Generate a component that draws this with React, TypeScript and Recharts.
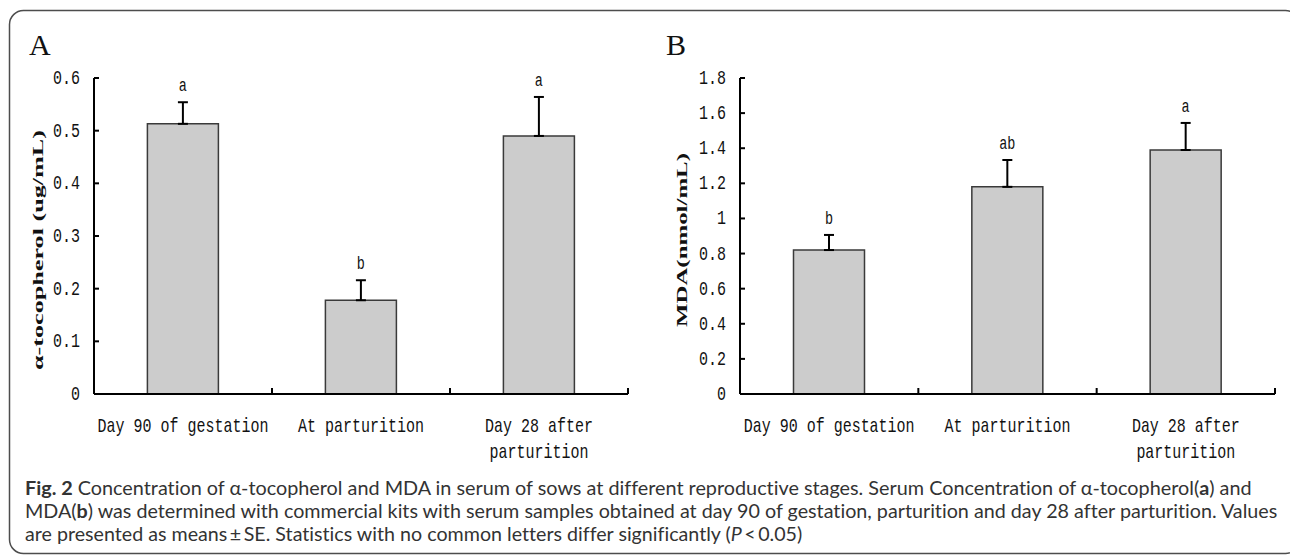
import React, { useLayoutEffect, useRef, useState } from "react";
import { BarChart, Bar, XAxis, YAxis, ErrorBar, LabelList, Label } from "recharts";

const stages = ["Day 90 of gestation", "At parturition", "Day 28 after parturition"];

const tocoMean = [0.513, 0.178, 0.49];
const tocoSE = [0.041, 0.038, 0.074];
const tocoLetters = ["a", "b", "a"];
const tocoTicks = [0, 0.1, 0.2, 0.3, 0.4, 0.5, 0.6];

const mdaMean = [0.82, 1.18, 1.39];
const mdaSE = [0.086, 0.153, 0.154];
const mdaLetters = ["b", "ab", "a"];
const mdaTicks = [0, 0.2, 0.4, 0.6, 0.8, 1, 1.2, 1.4, 1.6, 1.8];

const MONO = '"Liberation Mono", "DejaVu Sans Mono", monospace';
const SERIF = '"Liberation Serif", "DejaVu Serif", serif';
const SANS = 'Lato, "Open Sans", sans-serif';

function wrapWords(s: string, max = 19): string[] {
  const out: string[] = [];
  let cur = "";
  for (const w of s.split(" ")) {
    const next = cur ? cur + " " + w : w;
    if (next.length > max && cur) {
      out.push(cur);
      cur = w;
    } else {
      cur = next;
    }
  }
  if (cur) out.push(cur);
  return out;
}

// narrow mono text, the original uses a condensed CJK-style latin face
function Narrow({ x, y, anchor, size, children }: any) {
  return (
    <g transform={`translate(${x},${y}) scale(0.75,1)`}>
      <text x={0} y={0} textAnchor={anchor} fontFamily={MONO} fontSize={size} fill="#111">
        {children}
      </text>
    </g>
  );
}

function YTick(props: any) {
  const { x, y, payload } = props;
  return (
    <g>
      <line x1={x + 14} x2={x + 19} y1={y} y2={y} stroke="#000" strokeWidth={2} />
      <Narrow x={x} y={y + 6} anchor="end" size={20}>
        {String(payload.value)}
      </Narrow>
    </g>
  );
}

function XTick(props: any) {
  const { x, y, payload } = props;
  const half = payload.offset ?? 89;
  const lines = wrapWords(String(payload.value));
  return (
    <g>
      <line x1={x + half} x2={x + half} y1={y} y2={y - 6} stroke="#000" strokeWidth={2} />
      {lines.map((ln, i) => (
        <Narrow key={i} x={x} y={y + 38 + i * 26} anchor="middle" size={20}>
          {ln}
        </Narrow>
      ))}
    </g>
  );
}

function Panel({ left, means, ses, letters, ticks, max, yLabel, labelX, labelY, labelLen, plotLeft, rightMargin }: any) {
  const data = stages.map((stage, i) => ({ stage, mean: means[i], err: [0, ses[i]] }));

  const letter = (p: any) => {
    const { x, y, width, height, index } = p;
    const top = Number(y) - (ses[index] / means[index]) * Number(height);
    return (
      <Narrow x={Number(x) + Number(width) / 2} y={top - 11} anchor="middle" size={18}>
        {letters[index]}
      </Narrow>
    );
  };

  return (
    <div style={{ position: "absolute", left, top: 0 }}>
      <BarChart
        width={645}
        height={470}
        data={data}
        margin={{ top: 78, right: rightMargin, bottom: 0, left: 0 }}
        barCategoryGap="30%"
      >
        <XAxis
          dataKey="stage"
          height={76}
          interval={0}
          tickSize={0}
          tickMargin={0}
          tickLine={false}
          axisLine={{ stroke: "#000", strokeWidth: 2 }}
          tick={<XTick />}
        />
        <YAxis
          width={plotLeft}
          domain={[0, max]}
          ticks={ticks}
          interval={0}
          tickSize={0}
          tickMargin={14}
          tickLine={false}
          axisLine={{ stroke: "#000", strokeWidth: 2 }}
          tick={<YTick />}
        >
          <Label
            content={() => (
              <text
                transform={`translate(${labelX + 5},${labelY}) rotate(-90)`}
                textAnchor="middle"
                fontFamily={SERIF}
                fontWeight="bold"
                fontSize={15}
                fill="#111"
                textLength={labelLen}
                lengthAdjust="spacingAndGlyphs"
              >
                {yLabel}
              </text>
            )}
          />
        </YAxis>
        <Bar dataKey="mean" fill="#cccccc" stroke="#3a3a3a" strokeWidth={1.5} isAnimationActive={false}>
          <ErrorBar dataKey="err" direction="y" width={5} stroke="#000" strokeWidth={2} />
          <LabelList dataKey="mean" content={letter} />
        </Bar>
      </BarChart>
    </div>
  );
}

const blk = { display: "inline-block", lineHeight: "23px" };

// caption line squeezed to the width it has in the original
function FitLine({ top, width, children }: any) {
  const ref = useRef<HTMLSpanElement>(null);
  const [k, setK] = useState(1);
  useLayoutEffect(() => {
    const w = ref.current ? ref.current.offsetWidth : 0;
    if (w) setK(width / w);
  }, [width]);
  return (
    <div
      style={{
        position: "absolute",
        left: 25,
        top,
        height: 23,
        whiteSpace: "nowrap",
        fontFamily: SANS,
        fontSize: 19,
        lineHeight: "23px",
        color: "#333",
        fontVariantLigatures: "none",
      }}
    >
      <span
        ref={ref}
        style={{ ...blk, height: 23, transform: `scaleX(${k})`, transformOrigin: "left center" }}
      >
        {children}
      </span>
    </div>
  );
}

export default function App() {
  return (
    <div style={{ position: "relative", width: 1290, height: 557, background: "#fff", overflow: "hidden" }}>
      <style>{`body{margin:0}`}</style>
      <svg width={1290} height={557} style={{ position: "absolute", left: 0, top: 0 }}>
        <rect x={9.5} y={10.5} width={1290} height={543} rx={14} fill="none" stroke="#4d4d4d" strokeWidth={1.5} />
        <text x={29} y={55} fontFamily={SERIF} fontSize={30} fill="#111">A</text>
        <text x={666} y={55} fontFamily={SERIF} fontSize={30} fill="#111">B</text>
      </svg>
      <FitLine top={476} width={1227}>
        <b style={blk}>Fig. 2</b> Concentration of α-tocopherol and MDA in serum of sows at different reproductive
        stages. Serum Concentration of α-tocopherol(<b style={blk}>a</b>) and
      </FitLine>
      <FitLine top={499} width={1252}>
        MDA(<b style={blk}>b</b>) was determined with commercial kits with serum samples obtained at day 90 of
        gestation, parturition and day 28 after parturition. Values
      </FitLine>
      <FitLine top={522} width={777}>
        are presented as means{"\u2009±\u2009"}SE. Statistics with no common letters differ significantly (
        <i style={blk}>P</i>
        {"\u2009<\u2009"}0.05)
      </FitLine>
      <Panel
        left={0}
        means={tocoMean}
        ses={tocoSE}
        letters={tocoLetters}
        ticks={tocoTicks}
        max={0.6}
        yLabel="α-tocopherol (ug/mL)"
        labelX={38}
        labelY={250}
        labelLen={240}
        plotLeft={94}
        rightMargin={17}
      />
      <Panel
        left={645}
        means={mdaMean}
        ses={mdaSE}
        letters={mdaLetters}
        ticks={mdaTicks}
        max={1.8}
        yLabel="MDA(nmol/mL)"
        labelX={37}
        labelY={240}
        labelLen={174}
        plotLeft={95}
        rightMargin={15}
      />
    </div>
  );
}
